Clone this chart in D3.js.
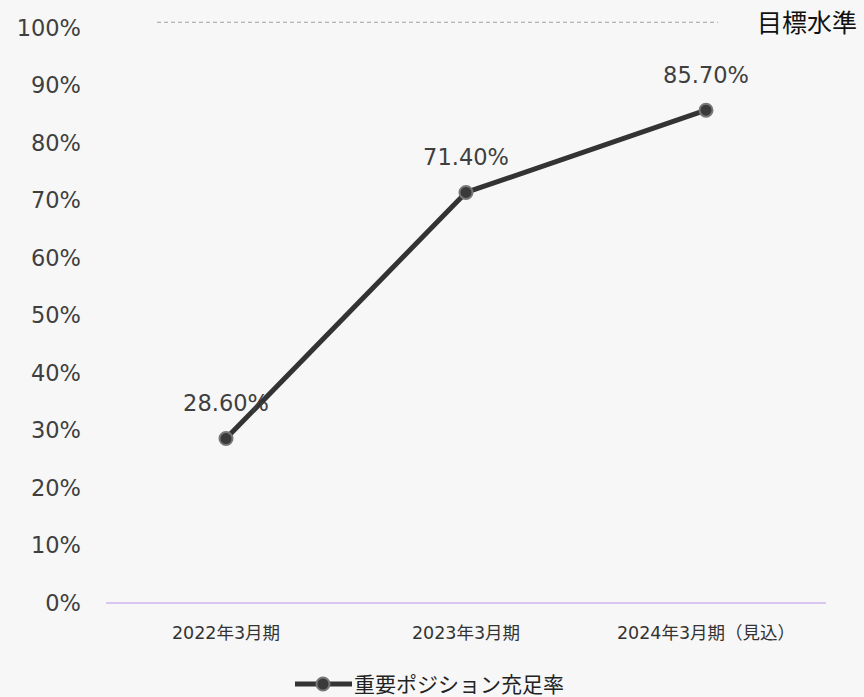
<!DOCTYPE html>
<html>
<head>
<meta charset="utf-8">
<script src="https://cdn.jsdelivr.net/npm/d3@7"></script>
<style>
  html, body { margin: 0; padding: 0; background: #f7f7f7; }
  svg { display: block; }
</style>
</head>
<body>
<div id="chart"></div>
<script>
// data
const periods = ["2022年3月期", "2023年3月期", "2024年3月期（見込）"];
const fillRate = [28.6, 71.4, 85.7];
const yTicks = [0, 10, 20, 30, 40, 50, 60, 70, 80, 90, 100];
const seriesName = "重要ポジション充足率";
const targetLabel = "目標水準";
const targetValue = 101;

const width = 864, height = 697;
const margin = {top: 28, right: 38, bottom: 94, left: 106};
const innerW = width - margin.left - margin.right,
      innerH = height - margin.top - margin.bottom;

const svg = d3.select("#chart").append("svg")
  .attr("width", width)
  .attr("height", height);

svg.append("rect").attr("width", width).attr("height", height).attr("fill", "#f7f7f7");

const g = svg.append("g")
  .attr("transform", "translate(" + margin.left + "," + margin.top + ")");

const x = d3.scaleBand().domain(periods).range([0, innerW]);
const y = d3.scaleLinear().domain([0, 100]).range([innerH, 0]);

const numFont = "'DejaVu Sans', Verdana, sans-serif";
const jpFont = "'Noto Sans CJK JP', sans-serif";

// y axis labels
g.selectAll("text.ytick").data(yTicks).enter().append("text")
  .attr("class", "ytick")
  .attr("x", -25)
  .attr("y", d => y(d))
  .attr("dy", "0.35em")
  .attr("text-anchor", "end")
  .attr("font-family", numFont)
  .attr("font-size", 22.5)
  .attr("fill", "#3f3f3f")
  .text(d => d + "%");

// baseline
g.append("line")
  .attr("x1", 0).attr("x2", innerW)
  .attr("y1", y(0)).attr("y2", y(0))
  .attr("stroke", "#d9c6f2")
  .attr("stroke-width", 2);

// x labels
g.selectAll("text.xtick").data(periods).enter().append("text")
  .attr("class", "xtick")
  .attr("x", d => x(d) + x.bandwidth() / 2)
  .attr("y", innerH + 30)
  .attr("dy", "0.35em")
  .attr("text-anchor", "middle")
  .attr("font-family", "'DejaVu Sans', 'Noto Sans CJK JP', sans-serif")
  .attr("font-size", 17.5)
  .attr("fill", "#333")
  .text(d => d);

// target line
g.append("line")
  .attr("x1", 51).attr("x2", 612)
  .attr("y1", y(targetValue)).attr("y2", y(targetValue))
  .attr("stroke", "#a0a0a0")
  .attr("stroke-width", 1)
  .attr("stroke-dasharray", "4,3");

g.append("text")
  .attr("x", 651)
  .attr("y", y(targetValue) + 1)
  .attr("dy", "0.35em")
  .attr("font-family", jpFont)
  .attr("font-size", 25)
  .attr("fill", "#111")
  .text(targetLabel);

// line
const pts = periods.map((p, i) => ({p: p, v: fillRate[i]}));
const line = d3.line()
  .x(d => x(d.p) + x.bandwidth() / 2)
  .y(d => y(d.v));

g.append("path")
  .datum(pts)
  .attr("fill", "none")
  .attr("stroke", "#333333")
  .attr("stroke-width", 5)
  .attr("stroke-linejoin", "round")
  .attr("d", line);

g.selectAll("circle.pt").data(pts).enter().append("circle")
  .attr("class", "pt")
  .attr("cx", d => x(d.p) + x.bandwidth() / 2)
  .attr("cy", d => y(d.v))
  .attr("r", 6.5)
  .attr("fill", "#3a3a3a")
  .attr("stroke", "#777")
  .attr("stroke-width", 2);

g.selectAll("text.lbl").data(pts).enter().append("text")
  .attr("class", "lbl")
  .attr("x", d => x(d.p) + x.bandwidth() / 2)
  .attr("y", d => y(d.v) - 35)
  .attr("dy", "0.35em")
  .attr("text-anchor", "middle")
  .attr("font-family", numFont)
  .attr("font-size", 22.5)
  .attr("fill", "#3f3f3f")
  .text(d => d.v.toFixed(2) + "%");

// legend
const leg = svg.append("g").attr("transform", "translate(295,684)");
leg.append("line")
  .attr("x1", 0).attr("x2", 57)
  .attr("y1", 0).attr("y2", 0)
  .attr("stroke", "#333").attr("stroke-width", 5);
leg.append("circle")
  .attr("cx", 28).attr("cy", 0).attr("r", 6.5)
  .attr("fill", "#3a3a3a").attr("stroke", "#777").attr("stroke-width", 2);
leg.append("text")
  .attr("x", 59).attr("y", 1).attr("dy", "0.35em")
  .attr("font-family", jpFont)
  .attr("font-size", 21)
  .attr("fill", "#222")
  .text(seriesName);
</script>
</body>
</html>
